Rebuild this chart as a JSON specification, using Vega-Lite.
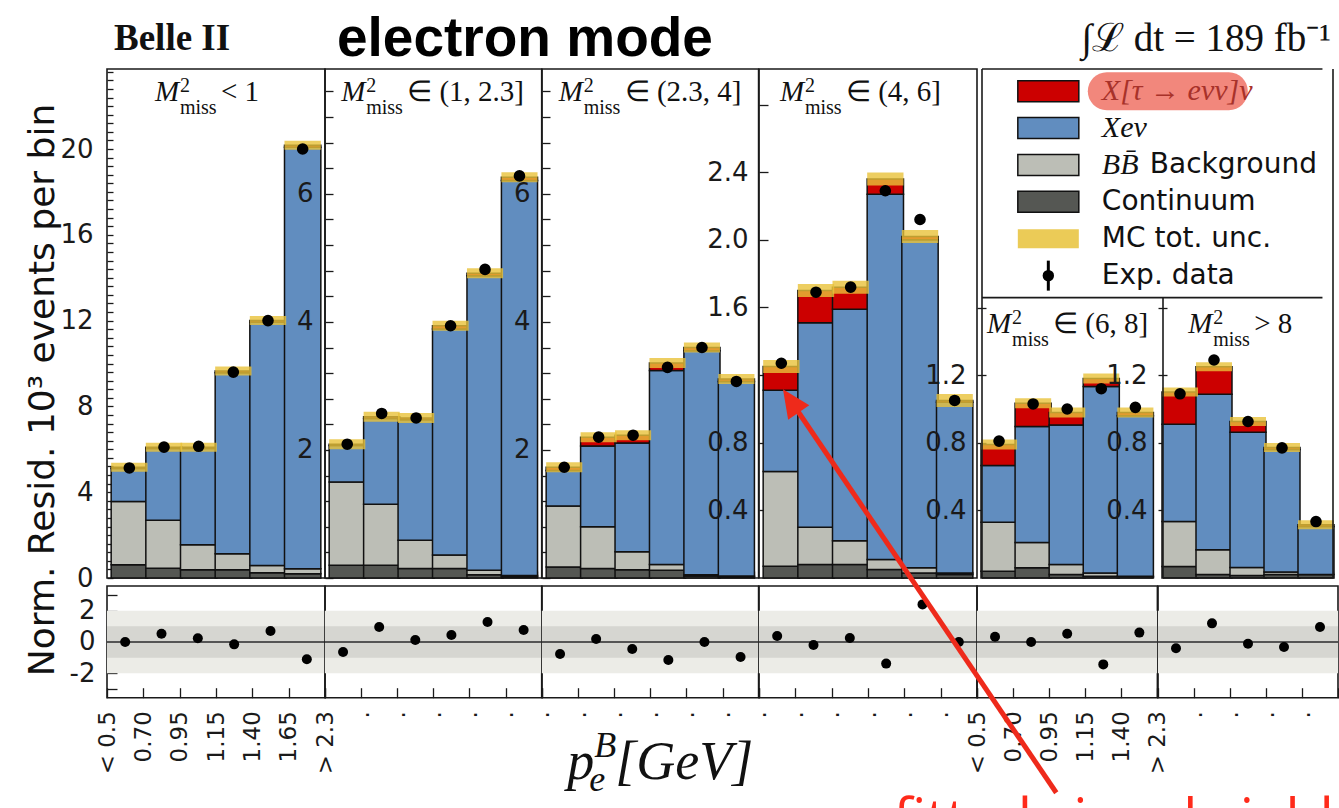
{
"$schema": "https://vega.github.io/schema/vega-lite/v6.json",
"background": "white",
"padding": {"left": 24, "top": 11, "right": 0, "bottom": 0},
"config": {
  "view": {"stroke": "#1a1a1a", "strokeWidth": 1.6},
  "axis": {"labelFont": "DejaVu Sans", "labelFontSize": 26, "labelColor": "#1a1a1a", "tickColor": "#1a1a1a", "tickWidth": 1.3, "domain": false, "grid": false, "labelOverlap": false, "labelFlush": false, "zindex": 1, "labelPadding": 20, "title": null}
},
"datasets": {
  "mc": [
    {"p":1,"b":1,"continuum":0.62,"generic":2.95,"xenu":1.54,"xtau":0.05},
    {"p":1,"b":2,"continuum":0.45,"generic":2.24,"xenu":3.35,"xtau":0.06},
    {"p":1,"b":3,"continuum":0.38,"generic":1.17,"xenu":4.49,"xtau":0.06},
    {"p":1,"b":4,"continuum":0.38,"generic":0.75,"xenu":8.44,"xtau":0.08},
    {"p":1,"b":5,"continuum":0.25,"generic":0.33,"xenu":11.34,"xtau":0.08},
    {"p":1,"b":6,"continuum":0.2,"generic":0.23,"xenu":19.65,"xtau":0.1},
    {"p":2,"b":1,"continuum":0.2,"generic":1.3,"xenu":0.57,"xtau":0.02},
    {"p":2,"b":2,"continuum":0.2,"generic":0.95,"xenu":1.34,"xtau":0.03},
    {"p":2,"b":3,"continuum":0.15,"generic":0.44,"xenu":1.88,"xtau":0.03},
    {"p":2,"b":4,"continuum":0.15,"generic":0.21,"xenu":3.53,"xtau":0.05},
    {"p":2,"b":5,"continuum":0.05,"generic":0.07,"xenu":4.6,"xtau":0.04},
    {"p":2,"b":6,"continuum":0.02,"generic":0.02,"xenu":6.17,"xtau":0.05},
    {"p":3,"b":1,"continuum":0.17,"generic":0.955,"xenu":0.555,"xtau":0.05},
    {"p":3,"b":2,"continuum":0.15,"generic":0.65,"xenu":1.26,"xtau":0.14},
    {"p":3,"b":3,"continuum":0.13,"generic":0.28,"xenu":1.7,"xtau":0.12},
    {"p":3,"b":4,"continuum":0.12,"generic":0.09,"xenu":3.03,"xtau":0.12},
    {"p":3,"b":5,"continuum":0.03,"generic":0.02,"xenu":3.5,"xtau":0.05},
    {"p":3,"b":6,"continuum":0.02,"generic":0.01,"xenu":3.04,"xtau":0.04},
    {"p":4,"b":1,"continuum":0.07,"generic":0.56,"xenu":0.48,"xtau":0.14},
    {"p":4,"b":2,"continuum":0.08,"generic":0.22,"xenu":1.21,"xtau":0.19},
    {"p":4,"b":3,"continuum":0.08,"generic":0.14,"xenu":1.37,"xtau":0.13},
    {"p":4,"b":4,"continuum":0.05,"generic":0.06,"xenu":2.16,"xtau":0.09},
    {"p":4,"b":5,"continuum":0.03,"generic":0.03,"xenu":1.94,"xtau":0.02},
    {"p":4,"b":6,"continuum":0.02,"generic":0.01,"xenu":1.01,"xtau":0.01},
    {"p":5,"b":1,"continuum":0.04,"generic":0.29,"xenu":0.336,"xtau":0.124},
    {"p":5,"b":2,"continuum":0.06,"generic":0.15,"xenu":0.686,"xtau":0.138},
    {"p":5,"b":3,"continuum":0.02,"generic":0.06,"xenu":0.826,"xtau":0.074},
    {"p":5,"b":4,"continuum":0.01,"generic":0.02,"xenu":1.103,"xtau":0.047},
    {"p":5,"b":5,"continuum":0.005,"generic":0.005,"xenu":0.95,"xtau":0.02},
    {"p":6,"b":1,"continuum":0.068,"generic":0.266,"xenu":0.576,"xtau":0.19},
    {"p":6,"b":2,"continuum":0.02,"generic":0.147,"xenu":0.921,"xtau":0.162},
    {"p":6,"b":3,"continuum":0.015,"generic":0.047,"xenu":0.801,"xtau":0.063},
    {"p":6,"b":4,"continuum":0.02,"generic":0.015,"xenu":0.725,"xtau":0.012},
    {"p":6,"b":5,"continuum":0.02,"generic":0.0,"xenu":0.285,"xtau":0.01}
  ],
  "obs": [
    {"p":1,"b":1,"y":5.13,"e":0.12,"r":0.0},
    {"p":1,"b":2,"y":6.1,"e":0.12,"r":0.53},
    {"p":1,"b":3,"y":6.14,"e":0.12,"r":0.24},
    {"p":1,"b":4,"y":9.6,"e":0.12,"r":-0.15},
    {"p":1,"b":5,"y":12.0,"e":0.12,"r":0.7},
    {"p":1,"b":6,"y":20.0,"e":0.15,"r":-1.1},
    {"p":2,"b":1,"y":2.09,"e":0.05,"r":-0.64},
    {"p":2,"b":2,"y":2.57,"e":0.05,"r":0.96},
    {"p":2,"b":3,"y":2.5,"e":0.05,"r":0.13},
    {"p":2,"b":4,"y":3.94,"e":0.05,"r":0.45},
    {"p":2,"b":5,"y":4.82,"e":0.05,"r":1.28},
    {"p":2,"b":6,"y":6.28,"e":0.06,"r":0.77},
    {"p":3,"b":1,"y":1.73,"e":0.05,"r":-0.77},
    {"p":3,"b":2,"y":2.2,"e":0.05,"r":0.19},
    {"p":3,"b":3,"y":2.23,"e":0.05,"r":-0.45},
    {"p":3,"b":4,"y":3.29,"e":0.05,"r":-1.15},
    {"p":3,"b":5,"y":3.6,"e":0.05,"r":0.0},
    {"p":3,"b":6,"y":3.07,"e":0.05,"r":-0.96},
    {"p":4,"b":1,"y":1.27,"e":0.03,"r":0.38},
    {"p":4,"b":2,"y":1.69,"e":0.03,"r":-0.19},
    {"p":4,"b":3,"y":1.72,"e":0.03,"r":0.26},
    {"p":4,"b":4,"y":2.29,"e":0.03,"r":-1.38},
    {"p":4,"b":5,"y":2.12,"e":0.03,"r":2.4},
    {"p":4,"b":6,"y":1.05,"e":0.03,"r":0.0},
    {"p":5,"b":1,"y":0.81,"e":0.025,"r":0.34},
    {"p":5,"b":2,"y":1.03,"e":0.025,"r":0.0},
    {"p":5,"b":3,"y":1.0,"e":0.025,"r":0.53},
    {"p":5,"b":4,"y":1.12,"e":0.025,"r":-1.43},
    {"p":5,"b":5,"y":1.01,"e":0.025,"r":0.6},
    {"p":6,"b":1,"y":1.09,"e":0.025,"r":-0.4},
    {"p":6,"b":2,"y":1.29,"e":0.025,"r":1.19},
    {"p":6,"b":3,"y":0.926,"e":0.025,"r":-0.11},
    {"p":6,"b":4,"y":0.77,"e":0.025,"r":-0.32},
    {"p":6,"b":5,"y":0.334,"e":0.025,"r":0.96}
  ],
  "panels": [
    {"p":1,"rest":"< 1"},
    {"p":2,"rest":"∈ (1, 2.3]"},
    {"p":3,"rest":"∈ (2.3, 4]"},
    {"p":4,"rest":"∈ (4, 6]"},
    {"p":5,"rest":"∈ (6, 8]"},
    {"p":6,"rest":"> 8"}
  ],
  "legend": [
    {"i":1,"c":"xtau","serif":"X[τ → eνν]ν","sans":""},
    {"i":2,"c":"xenu","serif":"Xeν","sans":""},
    {"i":3,"c":"generic","serif":"BB\u0304","sans":"Background"},
    {"i":4,"c":"continuum","serif":"","sans":"Continuum"},
    {"i":5,"c":"","serif":"","sans":"MC tot. unc."},
    {"i":6,"c":"","serif":"","sans":"Exp. data"}
  ]
},
"columns": 6,
"spacing": {"row": 8, "column": 0},
"bounds": "flush",
"align": "each",
"concat": [
  {"width": 218, "height": 509,
   "layer": [
    {"data": {"name": "mc"},
     "transform": [{"filter": "datum.p == 1"}, {"fold": ["continuum","generic","xenu","xtau"], "as": ["c","v"]}, {"stack": "v", "groupby": ["b"], "sort": [{"field": "c", "order": "ascending"}], "as": ["y0","y1"]}],
     "mark": {"type": "bar", "width": 36.33, "stroke": "#111", "strokeWidth": 1.5},
     "encoding": {
      "x": {"field": "b", "type": "quantitative", "scale": {"domain": [0.5,6.5], "nice": false, "zero": false}, "axis": {"values": [0.5,1.5,2.5,3.5,4.5,5.5,6.5], "tickCount": 100, "labels": false, "tickSize": -7, "title": null}},
      "y": {"field": "y0", "type": "quantitative", "scale": {"domain": [0,23.73], "nice": false, "zero": false}, "axis": {"values": [0,0.4,0.8,1.2,1.6,2,2.4,2.8,3.2,3.6,4,4.4,4.8,5.2,5.6,6,6.4,6.8,7.2,7.6,8,8.4,8.8,9.2,9.6,10,10.4,10.8,11.2,11.6,12,12.4,12.8,13.2,13.6,14,14.4,14.8,15.2,15.6,16,16.4,16.8,17.2,17.6,18,18.4,18.8,19.2,19.6,20,20.4,20.8,21.2,21.6,22,22.4,22.8,23.2,23.6], "tickCount": 100, "tickMinStep": 0.1, "labelOverlap": false, "labelExpr": "indexof([0,4,8,12,16,20], datum.value) >= 0 ? '' + datum.value : ''", "tickSize": -6, "title": null}},
      "y2": {"field": "y1"},
      "fill": {"field": "c", "type": "nominal", "scale": {"domain": ["continuum","generic","xenu","xtau"], "range": ["#555753","#bcbeb6","#618dbf","#cc0000"]}, "legend": null}
     }},
    {"data": {"name": "mc"},
     "transform": [{"filter": "datum.p == 1"}, {"fold": ["continuum","generic","xenu","xtau"], "as": ["c","v"]}, {"stack": "v", "groupby": ["b"], "sort": [{"field": "c", "order": "ascending"}], "as": ["y0","y1"]}, {"filter": "datum.c == 'xtau'"}],
     "mark": {"type": "tick", "orient": "horizontal", "size": 36.33, "thickness": 9, "color": "#e8c23a", "opacity": 0.8},
     "encoding": {"x": {"field": "b", "type": "quantitative"}, "y": {"field": "y1", "type": "quantitative"}}},
    {"data": {"name": "obs"}, "transform": [{"filter": "datum.p == 1"}],
     "mark": {"type": "errorbar", "ticks": false, "color": "#000", "thickness": 2},
     "encoding": {"x": {"field": "b", "type": "quantitative"}, "y": {"field": "y", "type": "quantitative"}, "yError": {"field": "e"}}},
    {"data": {"name": "obs"}, "transform": [{"filter": "datum.p == 1"}],
     "mark": {"type": "point", "filled": true, "shape": "circle", "size": 135, "color": "#000", "opacity": 1},
     "encoding": {"x": {"field": "b", "type": "quantitative"}, "y": {"field": "y", "type": "quantitative"}}},
    {"data": {"name": "panels"}, "transform": [{"filter": "datum.p == 1"}],
     "mark": {"type": "text", "font": "Liberation Serif", "fontStyle": "italic", "fontSize": 29, "align": "left", "baseline": "alphabetic", "color": "#111"},
     "encoding": {"x": {"datum": 1.739}, "y": {"datum": 22.24}, "text": {"value": "M"}}},
    {"data": {"name": "panels"}, "transform": [{"filter": "datum.p == 1"}],
     "mark": {"type": "text", "font": "Liberation Serif", "fontSize": 20, "align": "left", "baseline": "alphabetic", "dx": 25, "dy": -9, "color": "#111"},
     "encoding": {"x": {"datum": 1.739}, "y": {"datum": 22.24}, "text": {"value": "2"}}},
    {"data": {"name": "panels"}, "transform": [{"filter": "datum.p == 1"}],
     "mark": {"type": "text", "font": "Liberation Serif", "fontSize": 20, "align": "left", "baseline": "alphabetic", "dx": 25, "dy": 13, "color": "#111"},
     "encoding": {"x": {"datum": 1.739}, "y": {"datum": 22.24}, "text": {"value": "miss"}}},
    {"data": {"name": "panels"}, "transform": [{"filter": "datum.p == 1"}],
     "mark": {"type": "text", "font": "Liberation Serif", "fontSize": 29, "align": "left", "baseline": "alphabetic", "dx": 66, "color": "#111"},
     "encoding": {"x": {"datum": 1.739}, "y": {"datum": 22.24}, "text": {"field": "rest"}}},
    {"data": {"name": "panels"}, "transform": [{"filter": "datum.p == 1"}],
     "mark": {"type": "text", "font": "Liberation Serif", "fontWeight": "bold", "fontSize": 37, "align": "left", "baseline": "alphabetic", "dx": 2, "color": "#111"},
     "encoding": {"x": {"datum": 0.5}, "y": {"datum": 24.6}, "text": {"value": "Belle II"}}},
    {"data": {"name": "panels"}, "transform": [{"filter": "datum.p == 1"}],
     "mark": {"type": "text", "font": "Liberation Sans", "fontWeight": "bold", "fontSize": 55, "align": "left", "baseline": "alphabetic", "color": "#000"},
     "encoding": {"x": {"datum": 6.99}, "y": {"datum": 24.34}, "text": {"value": "electron mode"}}},
    {"data": {"name": "panels"}, "transform": [{"filter": "datum.p == 1"}],
     "mark": {"type": "text", "font": "DejaVu Sans", "fontSize": 36, "align": "center", "baseline": "middle", "angle": 270, "color": "#111"},
     "encoding": {"x": {"datum": -1.482}, "y": {"datum": 8.765}, "text": {"value": "Norm. Resid. 10³ events per bin"}}}
   ]},
  {"width": 216.7, "height": 509,
   "layer": [
    {"data": {"name": "mc"},
     "transform": [{"filter": "datum.p == 2"}, {"fold": ["continuum","generic","xenu","xtau"], "as": ["c","v"]}, {"stack": "v", "groupby": ["b"], "sort": [{"field": "c", "order": "ascending"}], "as": ["y0","y1"]}],
     "mark": {"type": "bar", "width": 36.12, "stroke": "#111", "strokeWidth": 1.5},
     "encoding": {
      "x": {"field": "b", "type": "quantitative", "scale": {"domain": [0.5,6.5], "nice": false, "zero": false}, "axis": {"values": [0.5,1.5,2.5,3.5,4.5,5.5,6.5], "tickCount": 100, "labels": false, "tickSize": -7, "title": null}},
      "y": {"field": "y0", "type": "quantitative", "scale": {"domain": [0,7.95], "nice": false, "zero": false}, "axis": {"values": [0,0.4,0.8,1.2,1.6,2,2.4,2.8,3.2,3.6,4,4.4,4.8,5.2,5.6,6,6.4,6.8,7.2,7.6], "tickCount": 100, "tickMinStep": 0.1, "labelOverlap": false, "labelExpr": "indexof([2,4,6], datum.value) >= 0 ? '' + datum.value : ''", "tickSize": -8, "title": null}},
      "y2": {"field": "y1"},
      "fill": {"field": "c", "type": "nominal", "scale": {"domain": ["continuum","generic","xenu","xtau"], "range": ["#555753","#bcbeb6","#618dbf","#cc0000"]}, "legend": null}
     }},
    {"data": {"name": "mc"},
     "transform": [{"filter": "datum.p == 2"}, {"fold": ["continuum","generic","xenu","xtau"], "as": ["c","v"]}, {"stack": "v", "groupby": ["b"], "sort": [{"field": "c", "order": "ascending"}], "as": ["y0","y1"]}, {"filter": "datum.c == 'xtau'"}],
     "mark": {"type": "tick", "orient": "horizontal", "size": 36.12, "thickness": 10, "color": "#e8c23a", "opacity": 0.8},
     "encoding": {"x": {"field": "b", "type": "quantitative"}, "y": {"field": "y1", "type": "quantitative"}}},
    {"data": {"name": "obs"}, "transform": [{"filter": "datum.p == 2"}],
     "mark": {"type": "errorbar", "ticks": false, "color": "#000", "thickness": 2},
     "encoding": {"x": {"field": "b", "type": "quantitative"}, "y": {"field": "y", "type": "quantitative"}, "yError": {"field": "e"}}},
    {"data": {"name": "obs"}, "transform": [{"filter": "datum.p == 2"}],
     "mark": {"type": "point", "filled": true, "shape": "circle", "size": 135, "color": "#000", "opacity": 1},
     "encoding": {"x": {"field": "b", "type": "quantitative"}, "y": {"field": "y", "type": "quantitative"}}},
    {"data": {"name": "panels"}, "transform": [{"filter": "datum.p == 2"}],
     "mark": {"type": "text", "font": "Liberation Serif", "fontStyle": "italic", "fontSize": 29, "align": "left", "baseline": "alphabetic", "color": "#111"},
     "encoding": {"x": {"datum": 0.824}, "y": {"datum": 7.45}, "text": {"value": "M"}}},
    {"data": {"name": "panels"}, "transform": [{"filter": "datum.p == 2"}],
     "mark": {"type": "text", "font": "Liberation Serif", "fontSize": 20, "align": "left", "baseline": "alphabetic", "dx": 25, "dy": -9, "color": "#111"},
     "encoding": {"x": {"datum": 0.824}, "y": {"datum": 7.45}, "text": {"value": "2"}}},
    {"data": {"name": "panels"}, "transform": [{"filter": "datum.p == 2"}],
     "mark": {"type": "text", "font": "Liberation Serif", "fontSize": 20, "align": "left", "baseline": "alphabetic", "dx": 25, "dy": 13, "color": "#111"},
     "encoding": {"x": {"datum": 0.824}, "y": {"datum": 7.45}, "text": {"value": "miss"}}},
    {"data": {"name": "panels"}, "transform": [{"filter": "datum.p == 2"}],
     "mark": {"type": "text", "font": "Liberation Serif", "fontSize": 29, "align": "left", "baseline": "alphabetic", "dx": 66, "color": "#111"},
     "encoding": {"x": {"datum": 0.824}, "y": {"datum": 7.45}, "text": {"field": "rest"}}}
   ]},
  {"width": 216.6, "height": 509,
   "layer": [
    {"data": {"name": "mc"},
     "transform": [{"filter": "datum.p == 3"}, {"fold": ["continuum","generic","xenu","xtau"], "as": ["c","v"]}, {"stack": "v", "groupby": ["b"], "sort": [{"field": "c", "order": "ascending"}], "as": ["y0","y1"]}],
     "mark": {"type": "bar", "width": 36.1, "stroke": "#111", "strokeWidth": 1.5},
     "encoding": {
      "x": {"field": "b", "type": "quantitative", "scale": {"domain": [0.5,6.5], "nice": false, "zero": false}, "axis": {"values": [0.5,1.5,2.5,3.5,4.5,5.5,6.5], "tickCount": 100, "labels": false, "tickSize": -7, "title": null}},
      "y": {"field": "y0", "type": "quantitative", "scale": {"domain": [0,7.95], "nice": false, "zero": false}, "axis": {"values": [0,0.4,0.8,1.2,1.6,2,2.4,2.8,3.2,3.6,4,4.4,4.8,5.2,5.6,6,6.4,6.8,7.2,7.6], "tickCount": 100, "tickMinStep": 0.1, "labelOverlap": false, "labelExpr": "indexof([2,4,6], datum.value) >= 0 ? '' + datum.value : ''", "tickSize": -8, "title": null}},
      "y2": {"field": "y1"},
      "fill": {"field": "c", "type": "nominal", "scale": {"domain": ["continuum","generic","xenu","xtau"], "range": ["#555753","#bcbeb6","#618dbf","#cc0000"]}, "legend": null}
     }},
    {"data": {"name": "mc"},
     "transform": [{"filter": "datum.p == 3"}, {"fold": ["continuum","generic","xenu","xtau"], "as": ["c","v"]}, {"stack": "v", "groupby": ["b"], "sort": [{"field": "c", "order": "ascending"}], "as": ["y0","y1"]}, {"filter": "datum.c == 'xtau'"}],
     "mark": {"type": "tick", "orient": "horizontal", "size": 36.1, "thickness": 10, "color": "#e8c23a", "opacity": 0.8},
     "encoding": {"x": {"field": "b", "type": "quantitative"}, "y": {"field": "y1", "type": "quantitative"}}},
    {"data": {"name": "obs"}, "transform": [{"filter": "datum.p == 3"}],
     "mark": {"type": "errorbar", "ticks": false, "color": "#000", "thickness": 2},
     "encoding": {"x": {"field": "b", "type": "quantitative"}, "y": {"field": "y", "type": "quantitative"}, "yError": {"field": "e"}}},
    {"data": {"name": "obs"}, "transform": [{"filter": "datum.p == 3"}],
     "mark": {"type": "point", "filled": true, "shape": "circle", "size": 135, "color": "#000", "opacity": 1},
     "encoding": {"x": {"field": "b", "type": "quantitative"}, "y": {"field": "y", "type": "quantitative"}}},
    {"data": {"name": "panels"}, "transform": [{"filter": "datum.p == 3"}],
     "mark": {"type": "text", "font": "Liberation Serif", "fontStyle": "italic", "fontSize": 29, "align": "left", "baseline": "alphabetic", "color": "#111"},
     "encoding": {"x": {"datum": 0.84}, "y": {"datum": 7.45}, "text": {"value": "M"}}},
    {"data": {"name": "panels"}, "transform": [{"filter": "datum.p == 3"}],
     "mark": {"type": "text", "font": "Liberation Serif", "fontSize": 20, "align": "left", "baseline": "alphabetic", "dx": 25, "dy": -9, "color": "#111"},
     "encoding": {"x": {"datum": 0.84}, "y": {"datum": 7.45}, "text": {"value": "2"}}},
    {"data": {"name": "panels"}, "transform": [{"filter": "datum.p == 3"}],
     "mark": {"type": "text", "font": "Liberation Serif", "fontSize": 20, "align": "left", "baseline": "alphabetic", "dx": 25, "dy": 13, "color": "#111"},
     "encoding": {"x": {"datum": 0.84}, "y": {"datum": 7.45}, "text": {"value": "miss"}}},
    {"data": {"name": "panels"}, "transform": [{"filter": "datum.p == 3"}],
     "mark": {"type": "text", "font": "Liberation Serif", "fontSize": 29, "align": "left", "baseline": "alphabetic", "dx": 66, "color": "#111"},
     "encoding": {"x": {"datum": 0.84}, "y": {"datum": 7.45}, "text": {"field": "rest"}}}
   ]},
  {"width": 218, "height": 509,
   "layer": [
    {"data": {"name": "mc"},
     "transform": [{"filter": "datum.p == 4"}, {"fold": ["continuum","generic","xenu","xtau"], "as": ["c","v"]}, {"stack": "v", "groupby": ["b"], "sort": [{"field": "c", "order": "ascending"}], "as": ["y0","y1"]}],
     "mark": {"type": "bar", "width": 36.33, "stroke": "#111", "strokeWidth": 1.5},
     "encoding": {
      "x": {"field": "b", "type": "quantitative", "scale": {"domain": [0.5,6.5], "nice": false, "zero": false}, "axis": {"values": [0.5,1.5,2.5,3.5,4.5,5.5,6.5], "tickCount": 100, "labels": false, "tickSize": -7, "title": null}},
      "y": {"field": "y0", "type": "quantitative", "scale": {"domain": [0,3.01], "nice": false, "zero": false}, "axis": {"values": [0.4,0.8,1.2,1.6,2,2.4,2.8], "tickCount": 100, "format": ".1f", "labelOverlap": false, "labelExpr": "indexof([0.4,0.8,1.6,2,2.4], datum.value) >= 0 ? datum.label : ''", "tickSize": -9, "title": null}},
      "y2": {"field": "y1"},
      "fill": {"field": "c", "type": "nominal", "scale": {"domain": ["continuum","generic","xenu","xtau"], "range": ["#555753","#bcbeb6","#618dbf","#cc0000"]}, "legend": null}
     }},
    {"data": {"name": "mc"},
     "transform": [{"filter": "datum.p == 4"}, {"fold": ["continuum","generic","xenu","xtau"], "as": ["c","v"]}, {"stack": "v", "groupby": ["b"], "sort": [{"field": "c", "order": "ascending"}], "as": ["y0","y1"]}, {"filter": "datum.c == 'xtau'"}],
     "mark": {"type": "tick", "orient": "horizontal", "size": 36.33, "thickness": 13, "color": "#e8c23a", "opacity": 0.8},
     "encoding": {"x": {"field": "b", "type": "quantitative"}, "y": {"field": "y1", "type": "quantitative"}}},
    {"data": {"name": "obs"}, "transform": [{"filter": "datum.p == 4"}],
     "mark": {"type": "errorbar", "ticks": false, "color": "#000", "thickness": 2},
     "encoding": {"x": {"field": "b", "type": "quantitative"}, "y": {"field": "y", "type": "quantitative"}, "yError": {"field": "e"}}},
    {"data": {"name": "obs"}, "transform": [{"filter": "datum.p == 4"}],
     "mark": {"type": "point", "filled": true, "shape": "circle", "size": 135, "color": "#000", "opacity": 1},
     "encoding": {"x": {"field": "b", "type": "quantitative"}, "y": {"field": "y", "type": "quantitative"}}},
    {"data": {"name": "panels"}, "transform": [{"filter": "datum.p == 4"}],
     "mark": {"type": "text", "font": "Liberation Serif", "fontStyle": "italic", "fontSize": 29, "align": "left", "baseline": "alphabetic", "color": "#111"},
     "encoding": {"x": {"datum": 0.96}, "y": {"datum": 2.82}, "text": {"value": "M"}}},
    {"data": {"name": "panels"}, "transform": [{"filter": "datum.p == 4"}],
     "mark": {"type": "text", "font": "Liberation Serif", "fontSize": 20, "align": "left", "baseline": "alphabetic", "dx": 25, "dy": -9, "color": "#111"},
     "encoding": {"x": {"datum": 0.96}, "y": {"datum": 2.82}, "text": {"value": "2"}}},
    {"data": {"name": "panels"}, "transform": [{"filter": "datum.p == 4"}],
     "mark": {"type": "text", "font": "Liberation Serif", "fontSize": 20, "align": "left", "baseline": "alphabetic", "dx": 25, "dy": 13, "color": "#111"},
     "encoding": {"x": {"datum": 0.96}, "y": {"datum": 2.82}, "text": {"value": "miss"}}},
    {"data": {"name": "panels"}, "transform": [{"filter": "datum.p == 4"}],
     "mark": {"type": "text", "font": "Liberation Serif", "fontSize": 29, "align": "left", "baseline": "alphabetic", "dx": 66, "color": "#111"},
     "encoding": {"x": {"datum": 0.96}, "y": {"datum": 2.82}, "text": {"field": "rest"}}}
   ]},
  {"width": 180.4, "height": 509,
   "view": {"stroke": null},
   "resolve": {"scale": {"y": "independent"}, "axis": {"y": "independent"}},
   "layer": [
    {"layer": [
      {"data": {"name": "mc"},
       "transform": [{"filter": "datum.p == 5"}, {"fold": ["continuum","generic","xenu","xtau"], "as": ["c","v"]}, {"stack": "v", "groupby": ["b"], "sort": [{"field": "c", "order": "ascending"}], "as": ["y0","y1"]}],
       "mark": {"type": "bar", "width": 36.08, "stroke": "#111", "strokeWidth": 1.5},
       "encoding": {
        "x": {"field": "b", "type": "quantitative", "scale": {"domain": [0.5,5.5], "nice": false, "zero": false}, "axis": {"values": [0.5,1.5,2.5,3.5,4.5,5.5], "tickCount": 100, "labels": false, "tickSize": -7, "title": null}},
        "y": {"field": "y0", "type": "quantitative", "scale": {"domain": [0,3.012], "nice": false, "zero": false}, "axis": {"values": [0.4,0.8,1.2,1.6], "tickCount": 100, "format": ".1f", "labelOverlap": false, "labelExpr": "datum.value < 1.5 ? datum.label : ''", "tickSize": -9, "title": null}},
        "y2": {"field": "y1"},
        "fill": {"field": "c", "type": "nominal", "scale": {"domain": ["continuum","generic","xenu","xtau"], "range": ["#555753","#bcbeb6","#618dbf","#cc0000"]}, "legend": null}
       }},
      {"data": {"name": "mc"},
       "transform": [{"filter": "datum.p == 5"}, {"fold": ["continuum","generic","xenu","xtau"], "as": ["c","v"]}, {"stack": "v", "groupby": ["b"], "sort": [{"field": "c", "order": "ascending"}], "as": ["y0","y1"]}, {"filter": "datum.c == 'xtau'"}],
       "mark": {"type": "tick", "orient": "horizontal", "size": 36.08, "thickness": 10, "color": "#e8c23a", "opacity": 0.8},
       "encoding": {"x": {"field": "b", "type": "quantitative"}, "y": {"field": "y1", "type": "quantitative"}}},
      {"data": {"name": "obs"}, "transform": [{"filter": "datum.p == 5"}],
       "mark": {"type": "errorbar", "ticks": false, "color": "#000", "thickness": 2},
       "encoding": {"x": {"field": "b", "type": "quantitative"}, "y": {"field": "y", "type": "quantitative"}, "yError": {"field": "e"}}},
      {"data": {"name": "obs"}, "transform": [{"filter": "datum.p == 5"}],
       "mark": {"type": "point", "filled": true, "shape": "circle", "size": 135, "color": "#000", "opacity": 1},
       "encoding": {"x": {"field": "b", "type": "quantitative"}, "y": {"field": "y", "type": "quantitative"}}},
      {"data": {"name": "panels"}, "transform": [{"filter": "datum.p == 5"}],
       "mark": {"type": "text", "font": "Liberation Serif", "fontStyle": "italic", "fontSize": 29, "align": "left", "baseline": "alphabetic", "color": "#111"},
       "encoding": {"x": {"datum": 0.65}, "y": {"datum": 1.451}, "text": {"value": "M"}}},
      {"data": {"name": "panels"}, "transform": [{"filter": "datum.p == 5"}],
       "mark": {"type": "text", "font": "Liberation Serif", "fontSize": 20, "align": "left", "baseline": "alphabetic", "dx": 25, "dy": -9, "color": "#111"},
       "encoding": {"x": {"datum": 0.65}, "y": {"datum": 1.451}, "text": {"value": "2"}}},
      {"data": {"name": "panels"}, "transform": [{"filter": "datum.p == 5"}],
       "mark": {"type": "text", "font": "Liberation Serif", "fontSize": 20, "align": "left", "baseline": "alphabetic", "dx": 25, "dy": 13, "color": "#111"},
       "encoding": {"x": {"datum": 0.65}, "y": {"datum": 1.451}, "text": {"value": "miss"}}},
      {"data": {"name": "panels"}, "transform": [{"filter": "datum.p == 5"}],
       "mark": {"type": "text", "font": "Liberation Serif", "fontSize": 29, "align": "left", "baseline": "alphabetic", "dx": 66, "color": "#111"},
       "encoding": {"x": {"datum": 0.65}, "y": {"datum": 1.451}, "text": {"field": "rest"}}},
      {"data": {"name": "panels"}, "transform": [{"filter": "datum.p == 5"}],
       "mark": {"type": "rule", "color": "#1a1a1a", "strokeWidth": 1.6},
       "encoding": {"x": {"datum": 0.5}, "y": {"datum": 0}, "y2": {"datum": 3.012}}},
      {"data": {"name": "panels"}, "transform": [{"filter": "datum.p == 5"}],
       "mark": {"type": "rule", "color": "#1a1a1a", "strokeWidth": 1.6},
       "encoding": {"x": {"datum": 0.5}, "x2": {"datum": 5.5}, "y": {"datum": 0}}},
      {"data": {"name": "panels"}, "transform": [{"filter": "datum.p == 5"}],
       "mark": {"type": "rule", "color": "#1a1a1a", "strokeWidth": 1.6},
       "encoding": {"x": {"datum": 0.5}, "x2": {"datum": 10.49}, "y": {"datum": 1.659}}},
      {"data": {"name": "panels"}, "transform": [{"filter": "datum.p == 5"}],
       "mark": {"type": "rule", "color": "#1a1a1a", "strokeWidth": 1.6},
       "encoding": {"x": {"datum": 0.5}, "x2": {"datum": 10.49}, "y": {"datum": 3.012}}}
    ]},
    {"data": {"name": "legend"},
     "encoding": {"y": {"field": "i", "type": "quantitative", "scale": {"domain": [0.4, 14.194], "reverse": true, "nice": false, "zero": false}, "axis": null}},
     "layer": [
      {"transform": [{"filter": "datum.i == 1"}],
       "mark": {"type": "point", "shape": "M-0.7625,-0.2375H0.7625A0.2375,0.2375 0 0 1 0.7625,0.2375H-0.7625A0.2375,0.2375 0 0 1 -0.7625,-0.2375Z", "size": 25600, "filled": true, "color": "#f2877c", "opacity": 1, "strokeWidth": 0},
       "encoding": {"x": {"datum": 5.952}}},
      {"transform": [{"filter": "datum.i <= 4"}],
       "mark": {"type": "point", "shape": "M-1,-0.344H1V0.344H-1Z", "size": 3721, "filled": true, "opacity": 1, "stroke": "#111", "strokeWidth": 1.5},
       "encoding": {"x": {"datum": 2.446}, "fill": {"field": "c", "type": "nominal", "scale": {"domain": ["continuum","generic","xenu","xtau"], "range": ["#555753","#bcbeb6","#618dbf","#cc0000"]}, "legend": null}}},
      {"transform": [{"filter": "datum.i == 5"}],
       "mark": {"type": "point", "shape": "M-1,-0.31H1V0.31H-1Z", "size": 3721, "filled": true, "color": "#e8c23a", "opacity": 0.85, "strokeWidth": 0},
       "encoding": {"x": {"datum": 2.446}}},
      {"transform": [{"filter": "datum.i == 6"}],
       "mark": {"type": "point", "shape": "M0,-1V1", "size": 900, "filled": false, "stroke": "#000", "strokeWidth": 3, "opacity": 1},
       "encoding": {"x": {"datum": 2.446}}},
      {"transform": [{"filter": "datum.i == 6"}],
       "mark": {"type": "point", "shape": "circle", "size": 130, "filled": true, "color": "#000", "opacity": 1},
       "encoding": {"x": {"datum": 2.446}}},
      {"transform": [{"filter": "datum.serif != ''"}],
       "mark": {"type": "text", "font": "Liberation Serif", "fontStyle": "italic", "fontSize": 30, "align": "left", "baseline": "middle"},
       "encoding": {"x": {"datum": 4.017}, "text": {"field": "serif"}, "color": {"condition": {"test": "datum.i == 1", "value": "#a8322a"}, "value": "#111"}}},
      {"transform": [{"filter": "datum.i >= 4"}],
       "mark": {"type": "text", "font": "DejaVu Sans", "fontSize": 28, "align": "left", "baseline": "middle", "color": "#111"},
       "encoding": {"x": {"datum": 4.017}, "text": {"field": "sans"}}},
      {"transform": [{"filter": "datum.i == 3"}],
       "mark": {"type": "text", "font": "DejaVu Sans", "fontSize": 28, "align": "left", "baseline": "middle", "dx": 48, "color": "#111"},
       "encoding": {"x": {"datum": 4.017}, "text": {"field": "sans"}}}
     ]}
   ]},
  {"width": 180, "height": 509,
   "view": {"stroke": null},
   "layer": [
    {"data": {"name": "mc"},
     "transform": [{"filter": "datum.p == 6"}, {"fold": ["continuum","generic","xenu","xtau"], "as": ["c","v"]}, {"stack": "v", "groupby": ["b"], "sort": [{"field": "c", "order": "ascending"}], "as": ["y0","y1"]}],
     "mark": {"type": "bar", "width": 36, "stroke": "#111", "strokeWidth": 1.5},
     "encoding": {
      "x": {"field": "b", "type": "quantitative", "scale": {"domain": [0.5,5.5], "nice": false, "zero": false}, "axis": {"values": [0.5,1.5,2.5,3.5,4.5,5.5], "tickCount": 100, "labels": false, "tickSize": -7, "title": null}},
      "y": {"field": "y0", "type": "quantitative", "scale": {"domain": [0,3.012], "nice": false, "zero": false}, "axis": {"values": [0.4,0.8,1.2,1.6], "tickCount": 100, "format": ".1f", "labelOverlap": false, "labelExpr": "datum.value < 1.5 ? datum.label : ''", "tickSize": -9, "title": null}},
      "y2": {"field": "y1"},
      "fill": {"field": "c", "type": "nominal", "scale": {"domain": ["continuum","generic","xenu","xtau"], "range": ["#555753","#bcbeb6","#618dbf","#cc0000"]}, "legend": null}
     }},
    {"data": {"name": "mc"},
     "transform": [{"filter": "datum.p == 6"}, {"fold": ["continuum","generic","xenu","xtau"], "as": ["c","v"]}, {"stack": "v", "groupby": ["b"], "sort": [{"field": "c", "order": "ascending"}], "as": ["y0","y1"]}, {"filter": "datum.c == 'xtau'"}],
     "mark": {"type": "tick", "orient": "horizontal", "size": 36, "thickness": 9, "color": "#e8c23a", "opacity": 0.8},
     "encoding": {"x": {"field": "b", "type": "quantitative"}, "y": {"field": "y1", "type": "quantitative"}}},
    {"data": {"name": "obs"}, "transform": [{"filter": "datum.p == 6"}],
     "mark": {"type": "errorbar", "ticks": false, "color": "#000", "thickness": 2},
     "encoding": {"x": {"field": "b", "type": "quantitative"}, "y": {"field": "y", "type": "quantitative"}, "yError": {"field": "e"}}},
    {"data": {"name": "obs"}, "transform": [{"filter": "datum.p == 6"}],
     "mark": {"type": "point", "filled": true, "shape": "circle", "size": 135, "color": "#000", "opacity": 1},
     "encoding": {"x": {"field": "b", "type": "quantitative"}, "y": {"field": "y", "type": "quantitative"}}},
    {"data": {"name": "panels"}, "transform": [{"filter": "datum.p == 6"}],
     "mark": {"type": "text", "font": "Liberation Serif", "fontStyle": "italic", "fontSize": 29, "align": "left", "baseline": "alphabetic", "color": "#111"},
     "encoding": {"x": {"datum": 1.239}, "y": {"datum": 1.451}, "text": {"value": "M"}}},
    {"data": {"name": "panels"}, "transform": [{"filter": "datum.p == 6"}],
     "mark": {"type": "text", "font": "Liberation Serif", "fontSize": 20, "align": "left", "baseline": "alphabetic", "dx": 25, "dy": -9, "color": "#111"},
     "encoding": {"x": {"datum": 1.239}, "y": {"datum": 1.451}, "text": {"value": "2"}}},
    {"data": {"name": "panels"}, "transform": [{"filter": "datum.p == 6"}],
     "mark": {"type": "text", "font": "Liberation Serif", "fontSize": 20, "align": "left", "baseline": "alphabetic", "dx": 25, "dy": 13, "color": "#111"},
     "encoding": {"x": {"datum": 1.239}, "y": {"datum": 1.451}, "text": {"value": "miss"}}},
    {"data": {"name": "panels"}, "transform": [{"filter": "datum.p == 6"}],
     "mark": {"type": "text", "font": "Liberation Serif", "fontSize": 29, "align": "left", "baseline": "alphabetic", "dx": 66, "color": "#111"},
     "encoding": {"x": {"datum": 1.239}, "y": {"datum": 1.451}, "text": {"field": "rest"}}},
    {"data": {"name": "panels"}, "transform": [{"filter": "datum.p == 6"}],
     "mark": {"type": "text", "font": "Liberation Serif", "fontSize": 39, "align": "right", "baseline": "alphabetic", "dx": -2, "color": "#111"},
     "encoding": {"x": {"datum": 5.5}, "y": {"datum": 3.118}, "text": {"value": "∫ℒ dt = 189 fb⁻¹"}}},
    {"data": {"name": "panels"}, "transform": [{"filter": "datum.p == 6"}],
     "mark": {"type": "rule", "color": "#1a1a1a", "strokeWidth": 1.6},
     "encoding": {"x": {"datum": 0.5}, "y": {"datum": 0}, "y2": {"datum": 1.659}}},
    {"data": {"name": "panels"}, "transform": [{"filter": "datum.p == 6"}],
     "mark": {"type": "rule", "color": "#1a1a1a", "strokeWidth": 1.6},
     "encoding": {"x": {"datum": 5.5}, "y": {"datum": 0}, "y2": {"datum": 3.012}}},
    {"data": {"name": "panels"}, "transform": [{"filter": "datum.p == 6"}],
     "mark": {"type": "rule", "color": "#1a1a1a", "strokeWidth": 1.6},
     "encoding": {"x": {"datum": 0.5}, "x2": {"datum": 5.5}, "y": {"datum": 0}}}
   ]},
  {"width": 218, "height": 111.7,
   "layer": [
    {"data": {"name": "panels"}, "transform": [{"filter": "datum.p == 1"}], "mark": {"type": "rect", "color": "#ececE7"}, "encoding": {"x": {"datum": 0.5}, "x2": {"datum": 6.5}, "y": {"datum": -2}, "y2": {"datum": 2}}},
    {"data": {"name": "panels"}, "transform": [{"filter": "datum.p == 1"}], "mark": {"type": "rect", "color": "#d6d6d1"}, "encoding": {"x": {"datum": 0.5}, "x2": {"datum": 6.5}, "y": {"datum": -1}, "y2": {"datum": 1}}},
    {"data": {"name": "panels"}, "transform": [{"filter": "datum.p == 1"}], "mark": {"type": "rule", "color": "#555", "strokeWidth": 2}, "encoding": {"x": {"datum": 0.5}, "x2": {"datum": 6.5}, "y": {"datum": 0}}},
    {"data": {"name": "obs"}, "transform": [{"filter": "datum.p == 1"}],
     "mark": {"type": "point", "filled": true, "shape": "circle", "size": 100, "color": "#000", "opacity": 1},
     "encoding": {
      "x": {"field": "b", "type": "quantitative", "scale": {"domain": [0.5,6.5], "nice": false, "zero": false}, "axis": {"values": [0.5,1.5,2.5,3.5,4.5,5.5,6.5], "tickCount": 100, "labelOverlap": false, "labelExpr": "['< 0.5','0.70','0.95','1.15','1.40','1.65','> 2.3'][round(datum.value - 0.5)]", "labelAngle": -90, "labelFontSize": 23, "tickSize": -10, "labelPadding": 23, "title": null}},
      "y": {"field": "r", "type": "quantitative", "scale": {"domain": [-3.555,3.574], "nice": false, "zero": false}, "axis": {"values": [-3,-2,-1,0,1,2,3], "tickCount": 100, "labelOverlap": false, "labelExpr": "datum.value % 2 == 0 ? '' + datum.value : ''", "tickSize": -10, "labelPadding": 22, "title": null}}
     }}
   ]},
  {"width": 216.7, "height": 111.7,
   "layer": [
    {"data": {"name": "panels"}, "transform": [{"filter": "datum.p == 2"}], "mark": {"type": "rect", "color": "#ececE7"}, "encoding": {"x": {"datum": 0.5}, "x2": {"datum": 6.5}, "y": {"datum": -2, "axis": null}, "y2": {"datum": 2}}},
    {"data": {"name": "panels"}, "transform": [{"filter": "datum.p == 2"}], "mark": {"type": "rect", "color": "#d6d6d1"}, "encoding": {"x": {"datum": 0.5}, "x2": {"datum": 6.5}, "y": {"datum": -1, "axis": null}, "y2": {"datum": 1}}},
    {"data": {"name": "panels"}, "transform": [{"filter": "datum.p == 2"}], "mark": {"type": "rule", "color": "#555", "strokeWidth": 2}, "encoding": {"x": {"datum": 0.5}, "x2": {"datum": 6.5}, "y": {"datum": 0, "axis": null}}},
    {"data": {"name": "obs"}, "transform": [{"filter": "datum.p == 2"}],
     "mark": {"type": "point", "filled": true, "shape": "circle", "size": 100, "color": "#000", "opacity": 1},
     "encoding": {
      "x": {"field": "b", "type": "quantitative", "scale": {"domain": [0.5,6.5], "nice": false, "zero": false}, "axis": {"values": [0.5,1.5,2.5,3.5,4.5,5.5,6.5], "tickCount": 100, "labelOverlap": false, "labelExpr": "datum.value > 0.6 ? '.' : ''", "labelAngle": -90, "labelFontSize": 23, "tickSize": -10, "labelPadding": 23, "title": null}},
      "y": {"field": "r", "type": "quantitative", "scale": {"domain": [-3.555,3.574], "nice": false, "zero": false}, "axis": null}
     }}
   ]},
  {"width": 216.6, "height": 111.7,
   "layer": [
    {"data": {"name": "panels"}, "transform": [{"filter": "datum.p == 3"}], "mark": {"type": "rect", "color": "#ececE7"}, "encoding": {"x": {"datum": 0.5}, "x2": {"datum": 6.5}, "y": {"datum": -2, "axis": null}, "y2": {"datum": 2}}},
    {"data": {"name": "panels"}, "transform": [{"filter": "datum.p == 3"}], "mark": {"type": "rect", "color": "#d6d6d1"}, "encoding": {"x": {"datum": 0.5}, "x2": {"datum": 6.5}, "y": {"datum": -1, "axis": null}, "y2": {"datum": 1}}},
    {"data": {"name": "panels"}, "transform": [{"filter": "datum.p == 3"}], "mark": {"type": "rule", "color": "#555", "strokeWidth": 2}, "encoding": {"x": {"datum": 0.5}, "x2": {"datum": 6.5}, "y": {"datum": 0, "axis": null}}},
    {"data": {"name": "obs"}, "transform": [{"filter": "datum.p == 3"}],
     "mark": {"type": "point", "filled": true, "shape": "circle", "size": 100, "color": "#000", "opacity": 1},
     "encoding": {
      "x": {"field": "b", "type": "quantitative", "scale": {"domain": [0.5,6.5], "nice": false, "zero": false}, "axis": {"values": [0.5,1.5,2.5,3.5,4.5,5.5,6.5], "tickCount": 100, "labelOverlap": false, "labelExpr": "datum.value > 0.6 ? '.' : ''", "labelAngle": -90, "labelFontSize": 23, "tickSize": -10, "labelPadding": 23, "title": null}},
      "y": {"field": "r", "type": "quantitative", "scale": {"domain": [-3.555,3.574], "nice": false, "zero": false}, "axis": null}
     }},
    {"data": {"name": "panels"}, "transform": [{"filter": "datum.p == 3"}],
     "mark": {"type": "text", "font": "Liberation Serif", "fontStyle": "italic", "fontSize": 54, "align": "left", "baseline": "alphabetic", "color": "#111"},
     "encoding": {"x": {"datum": 1.2}, "y": {"datum": -8.74, "axis": null}, "text": {"value": "p"}}},
    {"data": {"name": "panels"}, "transform": [{"filter": "datum.p == 3"}],
     "mark": {"type": "text", "font": "Liberation Serif", "fontStyle": "italic", "fontSize": 36, "align": "left", "baseline": "alphabetic", "dx": 22, "dy": 12, "color": "#111"},
     "encoding": {"x": {"datum": 1.2}, "y": {"datum": -8.74, "axis": null}, "text": {"value": "e"}}},
    {"data": {"name": "panels"}, "transform": [{"filter": "datum.p == 3"}],
     "mark": {"type": "text", "font": "Liberation Serif", "fontStyle": "italic", "fontSize": 36, "align": "left", "baseline": "alphabetic", "dx": 27, "dy": -22, "color": "#111"},
     "encoding": {"x": {"datum": 1.2}, "y": {"datum": -8.74, "axis": null}, "text": {"value": "B"}}},
    {"data": {"name": "panels"}, "transform": [{"filter": "datum.p == 3"}],
     "mark": {"type": "text", "font": "Liberation Serif", "fontStyle": "italic", "fontSize": 54, "align": "left", "baseline": "alphabetic", "dx": 48, "color": "#111"},
     "encoding": {"x": {"datum": 1.2}, "y": {"datum": -8.74, "axis": null}, "text": {"value": "[GeV]"}}}
   ]},
  {"width": 218, "height": 111.7,
   "layer": [
    {"data": {"name": "panels"}, "transform": [{"filter": "datum.p == 4"}], "mark": {"type": "rect", "color": "#ececE7"}, "encoding": {"x": {"datum": 0.5}, "x2": {"datum": 6.5}, "y": {"datum": -2, "axis": null}, "y2": {"datum": 2}}},
    {"data": {"name": "panels"}, "transform": [{"filter": "datum.p == 4"}], "mark": {"type": "rect", "color": "#d6d6d1"}, "encoding": {"x": {"datum": 0.5}, "x2": {"datum": 6.5}, "y": {"datum": -1, "axis": null}, "y2": {"datum": 1}}},
    {"data": {"name": "panels"}, "transform": [{"filter": "datum.p == 4"}], "mark": {"type": "rule", "color": "#555", "strokeWidth": 2}, "encoding": {"x": {"datum": 0.5}, "x2": {"datum": 6.5}, "y": {"datum": 0, "axis": null}}},
    {"data": {"name": "obs"}, "transform": [{"filter": "datum.p == 4"}],
     "mark": {"type": "point", "filled": true, "shape": "circle", "size": 100, "color": "#000", "opacity": 1},
     "encoding": {
      "x": {"field": "b", "type": "quantitative", "scale": {"domain": [0.5,6.5], "nice": false, "zero": false}, "axis": {"values": [0.5,1.5,2.5,3.5,4.5,5.5,6.5], "tickCount": 100, "labelOverlap": false, "labelExpr": "datum.value > 0.6 && datum.value < 6.4 ? '.' : ''", "labelAngle": -90, "labelFontSize": 23, "tickSize": -10, "labelPadding": 23, "title": null}},
      "y": {"field": "r", "type": "quantitative", "scale": {"domain": [-3.555,3.574], "nice": false, "zero": false}, "axis": null}
     }}
   ]},
  {"width": 180.4, "height": 111.7,
   "layer": [
    {"data": {"name": "panels"}, "transform": [{"filter": "datum.p == 5"}], "mark": {"type": "rect", "color": "#ececE7"}, "encoding": {"x": {"datum": 0.5}, "x2": {"datum": 5.5}, "y": {"datum": -2, "axis": null}, "y2": {"datum": 2}}},
    {"data": {"name": "panels"}, "transform": [{"filter": "datum.p == 5"}], "mark": {"type": "rect", "color": "#d6d6d1"}, "encoding": {"x": {"datum": 0.5}, "x2": {"datum": 5.5}, "y": {"datum": -1, "axis": null}, "y2": {"datum": 1}}},
    {"data": {"name": "panels"}, "transform": [{"filter": "datum.p == 5"}], "mark": {"type": "rule", "color": "#555", "strokeWidth": 2}, "encoding": {"x": {"datum": 0.5}, "x2": {"datum": 5.5}, "y": {"datum": 0, "axis": null}}},
    {"data": {"name": "obs"}, "transform": [{"filter": "datum.p == 5"}],
     "mark": {"type": "point", "filled": true, "shape": "circle", "size": 100, "color": "#000", "opacity": 1},
     "encoding": {
      "x": {"field": "b", "type": "quantitative", "scale": {"domain": [0.5,5.5], "nice": false, "zero": false}, "axis": {"values": [0.5,1.5,2.5,3.5,4.5,5.5], "tickCount": 100, "labelOverlap": false, "labelExpr": "['< 0.5','0.70','0.95','1.15','1.40','> 2.3'][round(datum.value - 0.5)]", "labelAngle": -90, "labelFontSize": 23, "tickSize": -10, "labelPadding": 23, "title": null}},
      "y": {"field": "r", "type": "quantitative", "scale": {"domain": [-3.555,3.574], "nice": false, "zero": false}, "axis": null}
     }}
   ]},
  {"width": 180, "height": 111.7,
   "layer": [
    {"data": {"name": "panels"}, "transform": [{"filter": "datum.p == 6"}], "mark": {"type": "rect", "color": "#ececE7"}, "encoding": {"x": {"datum": 0.5}, "x2": {"datum": 5.5}, "y": {"datum": -2, "axis": null}, "y2": {"datum": 2}}},
    {"data": {"name": "panels"}, "transform": [{"filter": "datum.p == 6"}], "mark": {"type": "rect", "color": "#d6d6d1"}, "encoding": {"x": {"datum": 0.5}, "x2": {"datum": 5.5}, "y": {"datum": -1, "axis": null}, "y2": {"datum": 1}}},
    {"data": {"name": "panels"}, "transform": [{"filter": "datum.p == 6"}], "mark": {"type": "rule", "color": "#555", "strokeWidth": 2}, "encoding": {"x": {"datum": 0.5}, "x2": {"datum": 5.5}, "y": {"datum": 0, "axis": null}}},
    {"data": {"name": "obs"}, "transform": [{"filter": "datum.p == 6"}],
     "mark": {"type": "point", "filled": true, "shape": "circle", "size": 100, "color": "#000", "opacity": 1},
     "encoding": {
      "x": {"field": "b", "type": "quantitative", "scale": {"domain": [0.5,5.5], "nice": false, "zero": false}, "axis": {"values": [0.5,1.5,2.5,3.5,4.5,5.5], "tickCount": 100, "labelOverlap": false, "labelExpr": "datum.value > 0.6 ? '.' : ''", "labelAngle": -90, "labelFontSize": 23, "tickSize": -10, "labelPadding": 23, "title": null}},
      "y": {"field": "r", "type": "quantitative", "scale": {"domain": [-3.555,3.574], "nice": false, "zero": false}, "axis": null}
     }},
    {"data": {"name": "panels"}, "transform": [{"filter": "datum.p == 6"}],
     "mark": {"type": "rule", "color": "#ee2a1b", "strokeWidth": 5},
     "encoding": {"x": {"datum": -9.683}, "y": {"datum": 15.335, "axis": null}, "x2": {"datum": -2.325}, "y2": {"datum": -9.62}}},
    {"data": {"name": "panels"}, "transform": [{"filter": "datum.p == 6"}],
     "mark": {"type": "point", "shape": "M0,0L-0.5,1.1L0.5,1.1Z", "size": 2600, "angle": 325.9, "filled": true, "color": "#ee2a1b", "opacity": 1},
     "encoding": {"x": {"datum": -9.917}, "y": {"datum": 16.13, "axis": null}}},
    {"data": {"name": "panels"}, "transform": [{"filter": "datum.p == 6"}],
     "mark": {"type": "text", "font": "Open Sans", "fontSize": 56, "align": "left", "baseline": "alphabetic", "color": "#ff2a1a"},
     "encoding": {"x": {"datum": -6.853}, "y": {"datum": -12.57, "axis": null}, "text": {"value": "fitted signal yield"}}}
   ]}
]
}
